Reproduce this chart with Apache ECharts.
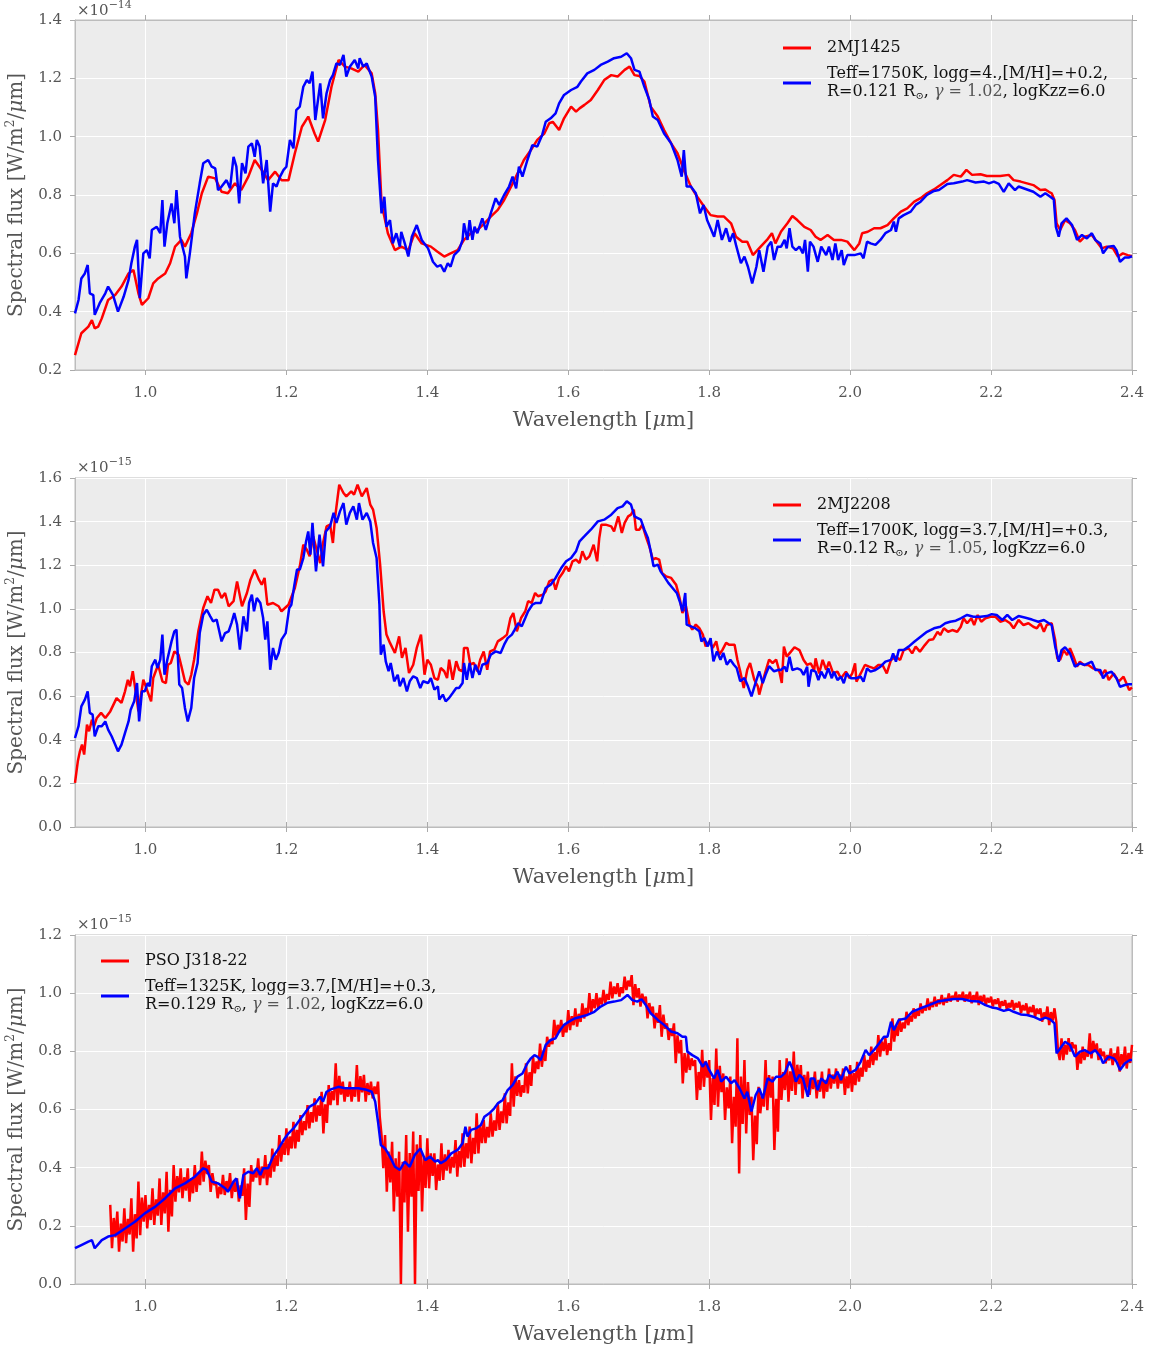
<!DOCTYPE html>
<html>
<head>
<meta charset="utf-8">
<script src="https://cdn.jsdelivr.net/npm/echarts@6/dist/echarts.min.js"></script>
<style>html,body{margin:0;padding:0;background:#fff}#c{width:1151px;height:1347px}</style>
</head>
<body>
<div id="c"></div>
<script>
// ---------------- data (wavelength in micron, flux in units of the axis multiplier) ----------------
const X_TICKS = [1.0, 1.2, 1.4, 1.6, 1.8, 2.0, 2.2, 2.4];
const Y_RANGES = [[0.2, 1.4], [0.0, 1.6], [0.0, 1.2]];
const EXPONENTS = ['−14', '−15', '−15'];
const OBJ_NAMES = ['2MJ1425', '2MJ2208', 'PSO J318-22'];
const MODEL_NAMES = [
  'Teff=1750K, logg=4.,[M/H]=+0.2,\nR=0.121 R⊙, γ = 1.02, logKzz=6.0',
  'Teff=1700K, logg=3.7,[M/H]=+0.3,\nR=0.12 R⊙, γ = 1.05, logKzz=6.0',
  'Teff=1325K, logg=3.7,[M/H]=+0.3,\nR=0.129 R⊙, γ = 1.02, logKzz=6.0'
];

const P1_OBS = [[0.900,0.251],[0.909,0.326],[0.919,0.349],[0.924,0.371],[0.928,0.343],[0.933,0.349],[0.938,0.377],[0.947,0.44],[0.957,0.457],[0.966,0.486],[0.976,0.531],[0.983,0.543],[0.990,0.463],[0.995,0.423],[1.004,0.446],[1.011,0.497],[1.018,0.514],[1.028,0.531],[1.035,0.566],[1.042,0.623],[1.051,0.646],[1.056,0.623],[1.065,0.669],[1.073,0.737],[1.080,0.806],[1.089,0.863],[1.099,0.857],[1.108,0.811],[1.117,0.806],[1.127,0.84],[1.136,0.817],[1.146,0.863],[1.155,0.92],[1.165,0.886],[1.174,0.851],[1.184,0.88],[1.193,0.851],[1.203,0.851],[1.212,0.943],[1.222,1.034],[1.231,1.069],[1.240,1.011],[1.245,0.983],[1.255,1.057],[1.264,1.171],[1.274,1.263],[1.283,1.24],[1.292,1.234],[1.302,1.223],[1.311,1.246],[1.321,1.217],[1.326,1.149],[1.330,1.023],[1.335,0.771],[1.344,0.669],[1.354,0.611],[1.363,0.623],[1.373,0.611],[1.382,0.669],[1.392,0.634],[1.405,0.623],[1.414,0.606],[1.424,0.589],[1.433,0.6],[1.443,0.611],[1.452,0.646],[1.462,0.669],[1.471,0.68],[1.481,0.703],[1.490,0.726],[1.500,0.749],[1.509,0.783],[1.519,0.829],[1.528,0.874],[1.537,0.92],[1.547,0.954],[1.556,0.989],[1.566,1.011],[1.573,1.046],[1.578,1.051],[1.587,1.023],[1.594,1.063],[1.604,1.103],[1.611,1.086],[1.616,1.097],[1.623,1.109],[1.632,1.126],[1.642,1.16],[1.651,1.194],[1.661,1.211],[1.670,1.206],[1.680,1.229],[1.687,1.24],[1.694,1.211],[1.701,1.208],[1.708,1.189],[1.717,1.103],[1.727,1.069],[1.736,1.023],[1.746,0.977],[1.755,0.943],[1.764,0.886],[1.774,0.829],[1.783,0.794],[1.793,0.76],[1.802,0.731],[1.812,0.726],[1.821,0.726],[1.831,0.703],[1.838,0.657],[1.847,0.64],[1.854,0.64],[1.862,0.594],[1.873,0.623],[1.882,0.646],[1.889,0.669],[1.894,0.634],[1.902,0.675],[1.911,0.703],[1.918,0.728],[1.925,0.714],[1.935,0.691],[1.944,0.68],[1.951,0.657],[1.958,0.646],[1.968,0.663],[1.977,0.646],[1.987,0.646],[1.996,0.64],[2.006,0.611],[2.013,0.634],[2.017,0.669],[2.025,0.674],[2.034,0.686],[2.043,0.686],[2.053,0.697],[2.062,0.72],[2.072,0.743],[2.081,0.754],[2.091,0.777],[2.100,0.789],[2.109,0.806],[2.119,0.819],[2.128,0.834],[2.138,0.851],[2.147,0.869],[2.157,0.863],[2.165,0.886],[2.173,0.869],[2.185,0.871],[2.194,0.865],[2.204,0.865],[2.213,0.865],[2.225,0.869],[2.232,0.851],[2.242,0.846],[2.251,0.84],[2.260,0.834],[2.270,0.817],[2.277,0.819],[2.282,0.811],[2.286,0.806],[2.290,0.783],[2.293,0.703],[2.298,0.68],[2.305,0.714],[2.312,0.703],[2.319,0.68],[2.326,0.64],[2.333,0.657],[2.343,0.663],[2.350,0.64],[2.357,0.617],[2.364,0.623],[2.373,0.617],[2.380,0.589],[2.387,0.6],[2.394,0.594],[2.400,0.59]];

const P1_MODEL = [[0.900,0.394],[0.905,0.44],[0.909,0.514],[0.914,0.531],[0.918,0.56],[0.921,0.463],[0.926,0.457],[0.928,0.389],[0.935,0.429],[0.943,0.463],[0.947,0.486],[0.954,0.457],[0.961,0.4],[0.969,0.451],[0.976,0.509],[0.980,0.566],[0.985,0.623],[0.988,0.646],[0.992,0.446],[0.997,0.6],[1.002,0.611],[1.006,0.583],[1.009,0.68],[1.016,0.691],[1.021,0.669],[1.024,0.783],[1.027,0.623],[1.031,0.703],[1.037,0.771],[1.041,0.703],[1.044,0.817],[1.049,0.657],[1.056,0.589],[1.058,0.514],[1.063,0.6],[1.070,0.737],[1.077,0.84],[1.082,0.909],[1.089,0.92],[1.094,0.897],[1.099,0.891],[1.103,0.817],[1.108,0.829],[1.115,0.851],[1.120,0.823],[1.125,0.931],[1.129,0.897],[1.133,0.771],[1.137,0.909],[1.142,0.874],[1.146,0.966],[1.151,0.977],[1.155,0.931],[1.158,0.989],[1.162,0.966],[1.167,0.84],[1.172,0.92],[1.177,0.743],[1.181,0.84],[1.186,0.829],[1.191,0.863],[1.196,0.886],[1.200,0.897],[1.205,0.989],[1.210,0.96],[1.214,1.091],[1.219,1.103],[1.224,1.171],[1.229,1.194],[1.233,1.183],[1.237,1.223],[1.241,1.057],[1.248,1.183],[1.252,1.063],[1.257,1.149],[1.262,1.194],[1.266,1.211],[1.271,1.251],[1.276,1.246],[1.281,1.28],[1.285,1.206],[1.290,1.24],[1.297,1.263],[1.302,1.234],[1.304,1.269],[1.309,1.24],[1.314,1.251],[1.321,1.206],[1.326,1.137],[1.330,0.92],[1.335,0.737],[1.339,0.794],[1.342,0.691],[1.347,0.714],[1.351,0.634],[1.356,0.669],[1.361,0.623],[1.363,0.674],[1.368,0.634],[1.373,0.589],[1.378,0.657],[1.385,0.697],[1.392,0.646],[1.401,0.617],[1.408,0.571],[1.410,0.577],[1.414,0.554],[1.419,0.56],[1.424,0.537],[1.429,0.566],[1.433,0.554],[1.438,0.594],[1.445,0.611],[1.450,0.646],[1.452,0.703],[1.457,0.646],[1.460,0.714],[1.464,0.646],[1.467,0.691],[1.471,0.669],[1.478,0.72],[1.483,0.68],[1.490,0.737],[1.497,0.789],[1.502,0.766],[1.509,0.8],[1.516,0.829],[1.521,0.863],[1.526,0.823],[1.530,0.897],[1.535,0.863],[1.542,0.92],[1.549,0.971],[1.556,0.966],[1.563,1.006],[1.568,1.051],[1.575,1.063],[1.582,1.08],[1.587,1.114],[1.594,1.143],[1.604,1.16],[1.613,1.171],[1.618,1.189],[1.627,1.217],[1.637,1.229],[1.646,1.246],[1.656,1.257],[1.665,1.269],[1.675,1.274],[1.683,1.286],[1.689,1.269],[1.694,1.229],[1.701,1.223],[1.708,1.171],[1.715,1.126],[1.720,1.069],[1.727,1.057],[1.736,1.011],[1.746,0.977],[1.755,0.92],[1.761,0.863],[1.764,0.954],[1.768,0.829],[1.774,0.829],[1.781,0.806],[1.787,0.737],[1.792,0.766],[1.797,0.714],[1.802,0.686],[1.807,0.657],[1.812,0.714],[1.818,0.646],[1.824,0.686],[1.829,0.64],[1.834,0.669],[1.838,0.629],[1.845,0.566],[1.850,0.589],[1.855,0.554],[1.861,0.497],[1.867,0.554],[1.871,0.611],[1.877,0.537],[1.883,0.623],[1.888,0.64],[1.892,0.577],[1.897,0.623],[1.902,0.623],[1.907,0.646],[1.910,0.617],[1.914,0.686],[1.918,0.623],[1.923,0.611],[1.928,0.623],[1.933,0.6],[1.936,0.646],[1.940,0.537],[1.943,0.64],[1.948,0.623],[1.954,0.571],[1.959,0.623],[1.966,0.594],[1.970,0.623],[1.975,0.577],[1.979,0.634],[1.983,0.577],[1.988,0.611],[1.991,0.56],[1.996,0.594],[2.006,0.594],[2.015,0.6],[2.019,0.583],[2.024,0.64],[2.029,0.634],[2.036,0.629],[2.043,0.646],[2.050,0.669],[2.058,0.68],[2.062,0.709],[2.065,0.674],[2.069,0.72],[2.076,0.731],[2.086,0.743],[2.093,0.766],[2.100,0.777],[2.109,0.8],[2.119,0.814],[2.126,0.817],[2.133,0.829],[2.138,0.838],[2.147,0.84],[2.159,0.846],[2.166,0.851],[2.178,0.843],[2.190,0.846],[2.197,0.84],[2.204,0.846],[2.211,0.838],[2.218,0.811],[2.225,0.84],[2.234,0.817],[2.239,0.829],[2.251,0.819],[2.260,0.811],[2.270,0.794],[2.277,0.806],[2.284,0.794],[2.289,0.785],[2.292,0.691],[2.296,0.657],[2.300,0.703],[2.307,0.72],[2.315,0.697],[2.322,0.646],[2.329,0.663],[2.336,0.651],[2.343,0.669],[2.348,0.646],[2.355,0.634],[2.359,0.6],[2.366,0.623],[2.374,0.625],[2.378,0.611],[2.383,0.571],[2.390,0.586],[2.396,0.586],[2.400,0.59]];

const P2_OBS = [[0.900,0.202],[0.904,0.301],[0.907,0.347],[0.910,0.378],[0.913,0.332],[0.917,0.469],[0.920,0.439],[0.924,0.492],[0.927,0.462],[0.931,0.5],[0.937,0.523],[0.943,0.5],[0.950,0.53],[0.959,0.591],[0.966,0.569],[0.971,0.622],[0.975,0.675],[0.978,0.645],[0.982,0.714],[0.986,0.622],[0.990,0.53],[0.997,0.675],[1.003,0.622],[1.008,0.576],[1.011,0.683],[1.018,0.744],[1.024,0.668],[1.029,0.66],[1.032,0.744],[1.036,0.752],[1.041,0.805],[1.047,0.79],[1.051,0.737],[1.056,0.668],[1.061,0.653],[1.065,0.698],[1.069,0.767],[1.075,0.897],[1.082,1.004],[1.088,1.058],[1.093,1.027],[1.098,1.088],[1.103,1.088],[1.108,1.05],[1.113,1.073],[1.118,1.012],[1.125,1.035],[1.130,1.126],[1.137,1.012],[1.144,1.073],[1.149,1.134],[1.155,1.18],[1.161,1.134],[1.165,1.111],[1.169,1.142],[1.173,1.019],[1.181,1.027],[1.189,1.012],[1.193,0.989],[1.203,1.019],[1.212,1.096],[1.219,1.195],[1.224,1.294],[1.229,1.271],[1.233,1.241],[1.238,1.333],[1.243,1.271],[1.248,1.21],[1.252,1.302],[1.257,1.378],[1.262,1.386],[1.266,1.302],[1.269,1.417],[1.275,1.569],[1.281,1.531],[1.285,1.516],[1.292,1.539],[1.296,1.524],[1.301,1.569],[1.307,1.516],[1.314,1.554],[1.319,1.478],[1.323,1.455],[1.328,1.371],[1.333,1.203],[1.338,0.989],[1.342,0.882],[1.347,0.844],[1.354,0.798],[1.360,0.874],[1.364,0.775],[1.369,0.821],[1.374,0.706],[1.380,0.744],[1.385,0.821],[1.391,0.882],[1.396,0.698],[1.400,0.767],[1.405,0.744],[1.410,0.683],[1.415,0.675],[1.419,0.729],[1.424,0.714],[1.428,0.683],[1.431,0.767],[1.436,0.675],[1.441,0.76],[1.445,0.721],[1.450,0.714],[1.452,0.821],[1.457,0.821],[1.461,0.744],[1.466,0.752],[1.471,0.714],[1.475,0.767],[1.480,0.805],[1.485,0.721],[1.489,0.805],[1.495,0.813],[1.500,0.851],[1.507,0.866],[1.513,0.882],[1.518,0.958],[1.522,0.981],[1.527,0.897],[1.533,0.958],[1.539,0.989],[1.543,1.035],[1.548,1.027],[1.553,1.073],[1.557,1.058],[1.564,1.065],[1.568,1.08],[1.573,1.126],[1.578,1.134],[1.582,1.088],[1.587,1.142],[1.592,1.164],[1.597,1.195],[1.601,1.172],[1.606,1.218],[1.611,1.226],[1.616,1.21],[1.620,1.264],[1.625,1.226],[1.630,1.241],[1.636,1.294],[1.641,1.218],[1.644,1.325],[1.647,1.386],[1.653,1.386],[1.661,1.378],[1.665,1.355],[1.671,1.424],[1.676,1.348],[1.680,1.394],[1.685,1.424],[1.689,1.432],[1.693,1.455],[1.696,1.363],[1.701,1.363],[1.705,1.386],[1.710,1.333],[1.715,1.287],[1.720,1.226],[1.724,1.233],[1.729,1.226],[1.733,1.164],[1.739,1.149],[1.746,1.142],[1.753,1.111],[1.758,1.05],[1.762,0.981],[1.767,1.012],[1.772,0.928],[1.776,0.905],[1.781,0.928],[1.786,0.912],[1.791,0.882],[1.795,0.828],[1.800,0.851],[1.805,0.821],[1.810,0.851],[1.814,0.79],[1.819,0.813],[1.824,0.844],[1.828,0.836],[1.836,0.836],[1.840,0.767],[1.844,0.714],[1.849,0.637],[1.854,0.721],[1.858,0.752],[1.864,0.675],[1.869,0.645],[1.871,0.607],[1.876,0.668],[1.880,0.714],[1.885,0.767],[1.890,0.752],[1.895,0.767],[1.899,0.721],[1.903,0.66],[1.906,0.827],[1.910,0.781],[1.916,0.804],[1.921,0.824],[1.928,0.811],[1.934,0.766],[1.939,0.743],[1.944,0.75],[1.949,0.72],[1.951,0.773],[1.956,0.704],[1.961,0.766],[1.966,0.72],[1.970,0.758],[1.976,0.704],[1.982,0.712],[1.987,0.682],[1.994,0.712],[1.999,0.682],[2.003,0.704],[2.007,0.75],[2.009,0.666],[2.015,0.704],[2.021,0.743],[2.027,0.735],[2.034,0.727],[2.040,0.743],[2.046,0.743],[2.052,0.704],[2.058,0.766],[2.065,0.781],[2.071,0.766],[2.076,0.811],[2.083,0.819],[2.088,0.796],[2.093,0.827],[2.099,0.804],[2.106,0.834],[2.112,0.857],[2.118,0.861],[2.124,0.895],[2.128,0.88],[2.133,0.911],[2.139,0.895],[2.145,0.903],[2.152,0.895],[2.157,0.918],[2.161,0.957],[2.166,0.934],[2.172,0.957],[2.176,0.926],[2.181,0.972],[2.186,0.941],[2.192,0.957],[2.199,0.964],[2.206,0.964],[2.213,0.941],[2.220,0.949],[2.227,0.934],[2.232,0.911],[2.239,0.949],[2.246,0.926],[2.253,0.934],[2.260,0.918],[2.265,0.911],[2.270,0.934],[2.275,0.895],[2.279,0.926],[2.286,0.934],[2.291,0.857],[2.294,0.773],[2.298,0.766],[2.303,0.811],[2.308,0.788],[2.312,0.819],[2.317,0.781],[2.322,0.735],[2.326,0.758],[2.332,0.743],[2.338,0.743],[2.345,0.727],[2.352,0.72],[2.357,0.697],[2.362,0.72],[2.367,0.674],[2.374,0.704],[2.381,0.666],[2.388,0.689],[2.392,0.659],[2.396,0.628],[2.400,0.64]];

const P2_MODEL = [[0.900,0.408],[0.905,0.462],[0.909,0.553],[0.914,0.584],[0.918,0.622],[0.921,0.523],[0.925,0.515],[0.928,0.416],[0.933,0.462],[0.938,0.462],[0.943,0.484],[0.947,0.446],[0.952,0.416],[0.957,0.378],[0.961,0.347],[0.966,0.378],[0.971,0.431],[0.976,0.484],[0.979,0.538],[0.984,0.576],[0.988,0.66],[0.991,0.484],[0.995,0.622],[0.999,0.622],[1.003,0.66],[1.006,0.645],[1.009,0.737],[1.014,0.767],[1.017,0.729],[1.021,0.767],[1.024,0.882],[1.027,0.698],[1.031,0.767],[1.037,0.851],[1.041,0.897],[1.044,0.905],[1.048,0.653],[1.052,0.637],[1.056,0.546],[1.060,0.484],[1.065,0.546],[1.069,0.683],[1.074,0.752],[1.077,0.889],[1.082,0.973],[1.087,0.996],[1.092,0.966],[1.096,0.943],[1.101,0.951],[1.108,0.851],[1.113,0.889],[1.118,0.897],[1.122,0.935],[1.126,0.981],[1.130,0.928],[1.134,0.813],[1.139,0.966],[1.144,0.897],[1.147,1.027],[1.151,1.065],[1.154,0.989],[1.158,1.05],[1.163,1.027],[1.167,0.958],[1.170,0.859],[1.173,0.943],[1.177,0.721],[1.181,0.821],[1.185,0.767],[1.189,0.798],[1.193,0.859],[1.199,0.889],[1.204,1.004],[1.207,1.019],[1.211,1.103],[1.215,1.18],[1.219,1.18],[1.224,1.233],[1.228,1.31],[1.231,1.355],[1.234,1.249],[1.237,1.394],[1.242,1.172],[1.247,1.34],[1.252,1.195],[1.256,1.355],[1.262,1.378],[1.267,1.44],[1.271,1.394],[1.276,1.447],[1.281,1.485],[1.285,1.386],[1.290,1.44],[1.295,1.47],[1.300,1.409],[1.303,1.485],[1.308,1.409],[1.314,1.44],[1.319,1.401],[1.323,1.302],[1.328,1.233],[1.332,1.019],[1.334,0.79],[1.338,0.836],[1.341,0.759],[1.345,0.714],[1.348,0.752],[1.353,0.668],[1.358,0.698],[1.361,0.645],[1.366,0.683],[1.371,0.622],[1.375,0.668],[1.380,0.691],[1.385,0.683],[1.390,0.637],[1.394,0.668],[1.401,0.66],[1.405,0.683],[1.410,0.63],[1.415,0.645],[1.417,0.584],[1.422,0.607],[1.426,0.576],[1.431,0.592],[1.436,0.614],[1.441,0.637],[1.445,0.637],[1.450,0.66],[1.452,0.752],[1.456,0.675],[1.460,0.752],[1.464,0.683],[1.468,0.744],[1.474,0.698],[1.478,0.744],[1.485,0.752],[1.490,0.79],[1.497,0.805],[1.504,0.798],[1.509,0.836],[1.514,0.866],[1.520,0.882],[1.524,0.905],[1.529,0.935],[1.534,0.92],[1.539,0.958],[1.543,0.989],[1.549,1.019],[1.554,1.027],[1.561,1.027],[1.568,1.096],[1.575,1.111],[1.582,1.142],[1.590,1.187],[1.597,1.218],[1.604,1.233],[1.611,1.264],[1.616,1.31],[1.623,1.333],[1.632,1.363],[1.642,1.401],[1.651,1.409],[1.661,1.432],[1.670,1.462],[1.677,1.47],[1.683,1.493],[1.689,1.478],[1.694,1.424],[1.698,1.417],[1.703,1.409],[1.708,1.363],[1.713,1.325],[1.717,1.264],[1.721,1.195],[1.727,1.203],[1.731,1.172],[1.736,1.149],[1.742,1.119],[1.748,1.096],[1.754,1.073],[1.759,1.027],[1.762,0.989],[1.766,1.073],[1.768,0.928],[1.774,0.92],[1.780,0.912],[1.786,0.897],[1.789,0.851],[1.793,0.866],[1.798,0.828],[1.802,0.866],[1.806,0.759],[1.811,0.805],[1.816,0.767],[1.820,0.798],[1.825,0.744],[1.830,0.767],[1.835,0.744],[1.839,0.729],[1.844,0.668],[1.850,0.683],[1.855,0.645],[1.860,0.599],[1.865,0.653],[1.871,0.714],[1.876,0.66],[1.880,0.698],[1.885,0.737],[1.892,0.714],[1.899,0.721],[1.902,0.72],[1.907,0.735],[1.910,0.712],[1.914,0.781],[1.918,0.72],[1.925,0.727],[1.930,0.72],[1.934,0.697],[1.939,0.735],[1.941,0.643],[1.945,0.72],[1.951,0.712],[1.955,0.674],[1.959,0.712],[1.964,0.682],[1.969,0.727],[1.974,0.682],[1.977,0.712],[1.982,0.674],[1.987,0.689],[1.991,0.659],[1.995,0.704],[2.001,0.682],[2.008,0.682],[2.015,0.689],[2.019,0.666],[2.024,0.727],[2.029,0.712],[2.036,0.72],[2.043,0.735],[2.050,0.758],[2.058,0.766],[2.061,0.796],[2.065,0.758],[2.069,0.811],[2.076,0.811],[2.083,0.827],[2.091,0.849],[2.100,0.872],[2.109,0.895],[2.119,0.911],[2.128,0.918],[2.135,0.934],[2.142,0.941],[2.150,0.946],[2.157,0.957],[2.166,0.972],[2.175,0.964],[2.185,0.964],[2.194,0.967],[2.201,0.976],[2.208,0.972],[2.216,0.949],[2.223,0.972],[2.230,0.949],[2.239,0.967],[2.249,0.959],[2.258,0.951],[2.267,0.941],[2.275,0.949],[2.282,0.934],[2.286,0.926],[2.291,0.827],[2.296,0.758],[2.300,0.811],[2.305,0.824],[2.312,0.796],[2.319,0.735],[2.326,0.75],[2.333,0.743],[2.343,0.758],[2.348,0.72],[2.355,0.72],[2.359,0.682],[2.364,0.704],[2.371,0.712],[2.378,0.682],[2.383,0.643],[2.390,0.651],[2.396,0.655],[2.400,0.655]];

const P3_OBS = [
[0.9500,0.272],[0.9525,0.123],[0.9550,0.227],[0.9575,0.160],[0.9600,0.249],[0.9625,0.111],[0.9650,0.208],[0.9675,0.146],
[0.9700,0.260],[0.9725,0.140],[0.9750,0.224],[0.9775,0.170],[0.9800,0.295],[0.9825,0.111],[0.9850,0.240],[0.9875,0.157],
[0.9900,0.352],[0.9925,0.168],[0.9950,0.297],[0.9975,0.214],[1.0000,0.306],[1.0025,0.191],[1.0050,0.272],[1.0075,0.220],
[1.0100,0.329],[1.0125,0.203],[1.0150,0.291],[1.0175,0.235],[1.0200,0.363],[1.0225,0.203],[1.0250,0.315],[1.0275,0.243],
[1.0300,0.386],[1.0325,0.180],[1.0350,0.324],[1.0375,0.232],[1.0400,0.409],[1.0425,0.283],[1.0450,0.371],[1.0475,0.315],
[1.0500,0.398],[1.0525,0.295],[1.0550,0.367],[1.0575,0.321],[1.0600,0.398],[1.0625,0.283],[1.0650,0.364],[1.0675,0.312],
[1.0700,0.409],[1.0725,0.317],[1.0750,0.381],[1.0775,0.340],[1.0800,0.455],[1.0825,0.352],[1.0850,0.424],[1.0875,0.378],
[1.0900,0.409],[1.0925,0.317],[1.0950,0.381],[1.0975,0.340],[1.1000,0.352],[1.1025,0.295],[1.1050,0.335],[1.1075,0.309],
[1.1100,0.375],[1.1125,0.306],[1.1150,0.354],[1.1175,0.323],[1.1200,0.381],[1.1225,0.295],[1.1250,0.355],[1.1275,0.317],
[1.1300,0.363],[1.1325,0.283],[1.1350,0.339],[1.1375,0.303],[1.1400,0.398],[1.1425,0.220],[1.1450,0.345],[1.1475,0.265],
[1.1500,0.409],[1.1525,0.352],[1.1550,0.392],[1.1575,0.366],[1.1600,0.432],[1.1625,0.340],[1.1650,0.404],[1.1675,0.363],
[1.1700,0.443],[1.1725,0.340],[1.1750,0.412],[1.1775,0.366],[1.1800,0.466],[1.1825,0.386],[1.1850,0.442],[1.1875,0.406],
[1.1900,0.512],[1.1925,0.421],[1.1950,0.485],[1.1975,0.444],[1.2000,0.535],[1.2025,0.443],[1.2050,0.507],[1.2075,0.466],
[1.2100,0.558],[1.2125,0.466],[1.2150,0.530],[1.2175,0.489],[1.2200,0.581],[1.2225,0.512],[1.2250,0.560],[1.2275,0.529],
[1.2300,0.615],[1.2325,0.535],[1.2350,0.591],[1.2375,0.555],[1.2400,0.638],[1.2425,0.558],[1.2450,0.614],[1.2475,0.578],
[1.2500,0.661],[1.2525,0.518],[1.2550,0.618],[1.2575,0.554],[1.2600,0.684],[1.2625,0.615],[1.2650,0.663],[1.2675,0.632],
[1.2700,0.759],[1.2725,0.615],[1.2750,0.716],[1.2775,0.651],[1.2800,0.696],[1.2825,0.627],[1.2850,0.675],[1.2875,0.644],
[1.2900,0.696],[1.2925,0.627],[1.2950,0.675],[1.2975,0.644],[1.3000,0.753],[1.3025,0.627],[1.3050,0.715],[1.3075,0.659],
[1.3100,0.719],[1.3125,0.627],[1.3150,0.691],[1.3175,0.650],[1.3200,0.696],[1.3225,0.638],[1.3250,0.679],[1.3275,0.653],
[1.3300,0.696],[1.3325,0.575],[1.3350,0.512],[1.3375,0.398],[1.3400,0.512],[1.3425,0.317],[1.3450,0.455],[1.3475,0.349],
[1.3500,0.489],[1.3525,0.249],[1.3550,0.432],[1.3575,0.300],[1.3600,0.455],[1.3625,0.000],[1.3650,0.420],[1.3675,0.280],
[1.3700,0.512],[1.3725,0.180],[1.3750,0.450],[1.3775,0.300],[1.3800,0.524],[1.3825,0.000],[1.3850,0.480],[1.3875,0.320],
[1.3900,0.512],[1.3925,0.249],[1.3950,0.440],[1.3975,0.330],[1.4000,0.501],[1.4025,0.329],[1.4050,0.449],[1.4075,0.372],
[1.4100,0.449],[1.4125,0.323],[1.4150,0.411],[1.4175,0.355],[1.4200,0.484],[1.4225,0.358],[1.4250,0.446],[1.4275,0.390],
[1.4300,0.461],[1.4325,0.380],[1.4350,0.437],[1.4375,0.400],[1.4400,0.495],[1.4425,0.369],[1.4450,0.457],[1.4475,0.401],
[1.4500,0.518],[1.4525,0.403],[1.4550,0.484],[1.4575,0.432],[1.4600,0.541],[1.4625,0.415],[1.4650,0.503],[1.4675,0.447],
[1.4700,0.587],[1.4725,0.449],[1.4750,0.546],[1.4775,0.484],[1.4800,0.564],[1.4825,0.484],[1.4850,0.540],[1.4875,0.504],
[1.4900,0.587],[1.4925,0.507],[1.4950,0.563],[1.4975,0.527],[1.5000,0.621],[1.5025,0.530],[1.5050,0.594],[1.5075,0.553],
[1.5100,0.656],[1.5125,0.552],[1.5150,0.625],[1.5175,0.578],[1.5200,0.759],[1.5225,0.610],[1.5250,0.714],[1.5275,0.647],
[1.5300,0.701],[1.5325,0.644],[1.5350,0.684],[1.5375,0.658],[1.5400,0.759],[1.5425,0.655],[1.5450,0.728],[1.5475,0.681],
[1.5500,0.782],[1.5525,0.724],[1.5550,0.765],[1.5575,0.739],[1.5600,0.827],[1.5625,0.747],[1.5650,0.803],[1.5675,0.767],
[1.5700,0.850],[1.5725,0.816],[1.5750,0.840],[1.5775,0.825],[1.5800,0.908],[1.5825,0.850],[1.5850,0.891],[1.5875,0.865],
[1.5900,0.908],[1.5925,0.850],[1.5950,0.891],[1.5975,0.865],[1.6000,0.942],[1.6025,0.873],[1.6050,0.921],[1.6075,0.890],
[1.6100,0.948],[1.6125,0.885],[1.6150,0.929],[1.6175,0.901],[1.6200,0.965],[1.6225,0.913],[1.6250,0.949],[1.6275,0.926],
[1.6300,1.000],[1.6325,0.931],[1.6350,0.979],[1.6375,0.948],[1.6400,1.000],[1.6425,0.948],[1.6450,0.984],[1.6475,0.961],
[1.6500,1.011],[1.6525,0.965],[1.6550,0.997],[1.6575,0.977],[1.6600,1.040],[1.6625,0.982],[1.6650,1.023],[1.6675,0.997],
[1.6700,1.034],[1.6725,0.988],[1.6750,1.020],[1.6775,1.000],[1.6800,1.057],[1.6825,1.011],[1.6850,1.043],[1.6875,1.023],
[1.6900,1.062],[1.6925,0.959],[1.6950,1.031],[1.6975,0.985],[1.7000,1.017],[1.7025,0.954],[1.7050,0.998],[1.7075,0.970],
[1.7100,0.988],[1.7125,0.913],[1.7150,0.966],[1.7175,0.932],[1.7200,0.954],[1.7225,0.879],[1.7250,0.932],[1.7275,0.898],
[1.7300,0.959],[1.7325,0.850],[1.7350,0.926],[1.7375,0.877],[1.7400,0.896],[1.7425,0.839],[1.7450,0.879],[1.7475,0.853],
[1.7500,0.896],[1.7525,0.759],[1.7550,0.855],[1.7575,0.793],[1.7600,0.839],[1.7625,0.690],[1.7650,0.794],[1.7675,0.727],
[1.7700,0.793],[1.7725,0.736],[1.7750,0.776],[1.7775,0.750],[1.7800,0.770],[1.7825,0.633],[1.7850,0.729],[1.7875,0.667],
[1.7900,0.805],[1.7925,0.678],[1.7950,0.767],[1.7975,0.710],[1.8000,0.770],[1.8025,0.564],[1.8050,0.708],[1.8075,0.616],
[1.8100,0.810],[1.8125,0.610],[1.8150,0.750],[1.8175,0.660],[1.8200,0.724],[1.8225,0.564],[1.8250,0.676],[1.8275,0.604],
[1.8300,0.713],[1.8325,0.484],[1.8350,0.644],[1.8375,0.541],[1.8400,0.845],[1.8425,0.380],[1.8450,0.713],[1.8475,0.550],
[1.8500,0.770],[1.8525,0.518],[1.8550,0.694],[1.8575,0.581],[1.8600,0.644],[1.8625,0.426],[1.8650,0.579],[1.8675,0.481],
[1.8700,0.678],[1.8725,0.587],[1.8750,0.651],[1.8775,0.610],[1.8800,0.770],[1.8825,0.598],[1.8850,0.718],[1.8875,0.641],
[1.8900,0.713],[1.8925,0.461],[1.8950,0.637],[1.8975,0.524],[1.9000,0.770],[1.9025,0.633],[1.9050,0.729],[1.9075,0.667],
[1.9100,0.776],[1.9125,0.627],[1.9150,0.731],[1.9175,0.664],[1.9200,0.799],[1.9225,0.650],[1.9250,0.754],[1.9275,0.687],
[1.9300,0.753],[1.9325,0.638],[1.9350,0.719],[1.9375,0.667],[1.9400,0.730],[1.9425,0.650],[1.9450,0.706],[1.9475,0.670],
[1.9500,0.730],[1.9525,0.638],[1.9550,0.702],[1.9575,0.661],[1.9600,0.730],[1.9625,0.638],[1.9650,0.702],[1.9675,0.661],
[1.9700,0.741],[1.9725,0.672],[1.9750,0.720],[1.9775,0.689],[1.9800,0.741],[1.9825,0.672],[1.9850,0.720],[1.9875,0.689],
[1.9900,0.741],[1.9925,0.650],[1.9950,0.714],[1.9975,0.673],[2.0000,0.753],[2.0025,0.661],[2.0050,0.725],[2.0075,0.684],
[2.0100,0.764],[2.0125,0.696],[2.0150,0.744],[2.0175,0.713],[2.0200,0.787],[2.0225,0.730],[2.0250,0.770],[2.0275,0.744],
[2.0300,0.816],[2.0325,0.753],[2.0350,0.797],[2.0375,0.769],[2.0400,0.856],[2.0425,0.782],[2.0450,0.834],[2.0475,0.801],
[2.0500,0.845],[2.0525,0.787],[2.0550,0.828],[2.0575,0.802],[2.0600,0.913],[2.0625,0.833],[2.0650,0.889],[2.0675,0.853],
[2.0700,0.913],[2.0725,0.867],[2.0750,0.899],[2.0775,0.879],[2.0800,0.936],[2.0825,0.890],[2.0850,0.922],[2.0875,0.902],
[2.0900,0.948],[2.0925,0.913],[2.0950,0.938],[2.0975,0.922],[2.1000,0.965],[2.1025,0.931],[2.1050,0.955],[2.1075,0.940],
[2.1100,0.982],[2.1125,0.942],[2.1150,0.970],[2.1175,0.952],[2.1200,0.988],[2.1225,0.954],[2.1250,0.978],[2.1275,0.963],
[2.1300,0.994],[2.1325,0.959],[2.1350,0.984],[2.1375,0.968],[2.1400,0.999],[2.1425,0.971],[2.1450,0.991],[2.1475,0.978],
[2.1500,1.005],[2.1525,0.971],[2.1550,0.995],[2.1575,0.980],[2.1600,1.005],[2.1625,0.971],[2.1650,0.995],[2.1675,0.980],
[2.1700,1.005],[2.1725,0.965],[2.1750,0.993],[2.1775,0.975],[2.1800,1.005],[2.1825,0.959],[2.1850,0.991],[2.1875,0.971],
[2.1900,0.994],[2.1925,0.959],[2.1950,0.984],[2.1975,0.968],[2.2000,0.988],[2.2025,0.954],[2.2050,0.978],[2.2075,0.963],
[2.2100,0.982],[2.2125,0.948],[2.2150,0.972],[2.2175,0.957],[2.2200,0.976],[2.2225,0.942],[2.2250,0.966],[2.2275,0.951],
[2.2300,0.976],[2.2325,0.942],[2.2350,0.966],[2.2375,0.951],[2.2400,0.971],[2.2425,0.931],[2.2450,0.959],[2.2475,0.941],
[2.2500,0.965],[2.2525,0.925],[2.2550,0.953],[2.2575,0.935],[2.2600,0.959],[2.2625,0.919],[2.2650,0.947],[2.2675,0.929],
[2.2700,0.948],[2.2725,0.902],[2.2750,0.934],[2.2775,0.914],[2.2800,0.954],[2.2825,0.890],[2.2850,0.935],[2.2875,0.906],
[2.2900,0.948],[2.2925,0.902],[2.2950,0.800],[2.2975,0.770],[2.3000,0.845],[2.3025,0.770],[2.3050,0.823],[2.3075,0.789],
[2.3100,0.845],[2.3125,0.799],[2.3150,0.831],[2.3175,0.811],[2.3200,0.822],[2.3225,0.736],[2.3250,0.796],[2.3275,0.758],
[2.3300,0.816],[2.3325,0.770],[2.3350,0.802],[2.3375,0.782],[2.3400,0.862],[2.3425,0.776],[2.3450,0.836],[2.3475,0.798],
[2.3500,0.827],[2.3525,0.770],[2.3550,0.810],[2.3575,0.784],[2.3600,0.799],[2.3625,0.759],[2.3650,0.787],[2.3675,0.769],
[2.3700,0.810],[2.3725,0.753],[2.3750,0.793],[2.3775,0.767],[2.3800,0.816],[2.3825,0.730],[2.3850,0.790],[2.3875,0.752],
[2.3900,0.816],[2.3925,0.741],[2.3950,0.794],[2.3975,0.760],[2.4000,0.822]];

const P3_MODEL = [[0.900,0.123],[0.909,0.134],[0.919,0.146],[0.924,0.151],[0.928,0.123],[0.938,0.151],[0.947,0.163],[0.957,0.168],[0.971,0.191],[0.985,0.214],[0.999,0.243],[1.014,0.266],[1.028,0.295],[1.042,0.329],[1.056,0.346],[1.070,0.369],[1.082,0.398],[1.087,0.392],[1.094,0.352],[1.103,0.346],[1.113,0.329],[1.117,0.317],[1.125,0.352],[1.129,0.363],[1.134,0.295],[1.139,0.375],[1.146,0.386],[1.153,0.381],[1.158,0.398],[1.163,0.375],[1.167,0.398],[1.174,0.398],[1.181,0.438],[1.189,0.466],[1.196,0.495],[1.203,0.518],[1.210,0.535],[1.217,0.558],[1.226,0.587],[1.233,0.61],[1.241,0.621],[1.248,0.644],[1.252,0.627],[1.257,0.661],[1.264,0.67],[1.274,0.678],[1.283,0.673],[1.293,0.673],[1.302,0.673],[1.312,0.669],[1.321,0.661],[1.326,0.627],[1.330,0.558],[1.334,0.478],[1.340,0.466],[1.347,0.438],[1.354,0.403],[1.361,0.392],[1.368,0.421],[1.375,0.403],[1.382,0.443],[1.390,0.466],[1.397,0.426],[1.404,0.438],[1.411,0.421],[1.415,0.426],[1.419,0.415],[1.426,0.426],[1.434,0.449],[1.443,0.461],[1.450,0.484],[1.454,0.541],[1.457,0.507],[1.462,0.53],[1.469,0.535],[1.476,0.547],[1.481,0.575],[1.488,0.587],[1.495,0.604],[1.500,0.621],[1.507,0.633],[1.514,0.667],[1.521,0.684],[1.528,0.713],[1.535,0.724],[1.542,0.759],[1.547,0.776],[1.552,0.787],[1.556,0.782],[1.561,0.77],[1.568,0.822],[1.575,0.839],[1.582,0.845],[1.587,0.868],[1.594,0.891],[1.601,0.902],[1.609,0.913],[1.618,0.919],[1.627,0.925],[1.637,0.936],[1.646,0.954],[1.656,0.967],[1.665,0.971],[1.675,0.976],[1.684,0.994],[1.691,0.976],[1.698,0.971],[1.704,0.979],[1.710,0.959],[1.717,0.931],[1.727,0.908],[1.736,0.891],[1.746,0.868],[1.755,0.862],[1.762,0.85],[1.767,0.85],[1.769,0.799],[1.776,0.787],[1.784,0.776],[1.791,0.747],[1.795,0.764],[1.800,0.736],[1.807,0.707],[1.812,0.736],[1.817,0.696],[1.824,0.713],[1.831,0.69],[1.836,0.701],[1.843,0.673],[1.850,0.638],[1.854,0.661],[1.860,0.593],[1.866,0.65],[1.871,0.673],[1.876,0.638],[1.883,0.707],[1.890,0.696],[1.895,0.713],[1.902,0.713],[1.907,0.724],[1.914,0.764],[1.918,0.741],[1.923,0.696],[1.928,0.719],[1.933,0.707],[1.940,0.644],[1.944,0.707],[1.949,0.707],[1.954,0.667],[1.959,0.707],[1.966,0.69],[1.970,0.719],[1.977,0.707],[1.982,0.73],[1.987,0.701],[1.994,0.747],[1.999,0.724],[2.008,0.736],[2.015,0.764],[2.022,0.805],[2.027,0.787],[2.034,0.805],[2.041,0.827],[2.048,0.85],[2.053,0.85],[2.058,0.902],[2.062,0.873],[2.069,0.908],[2.079,0.913],[2.088,0.936],[2.100,0.948],[2.112,0.959],[2.124,0.971],[2.135,0.976],[2.147,0.98],[2.159,0.98],[2.171,0.973],[2.183,0.971],[2.192,0.959],[2.201,0.951],[2.208,0.948],[2.218,0.939],[2.225,0.944],[2.232,0.936],[2.242,0.927],[2.251,0.925],[2.260,0.919],[2.270,0.908],[2.277,0.916],[2.284,0.91],[2.290,0.896],[2.293,0.793],[2.298,0.81],[2.305,0.833],[2.312,0.822],[2.319,0.782],[2.326,0.799],[2.333,0.804],[2.341,0.793],[2.348,0.804],[2.355,0.782],[2.359,0.759],[2.367,0.782],[2.374,0.776],[2.378,0.764],[2.383,0.736],[2.390,0.759],[2.397,0.77],[2.400,0.77]];

const OBS = [P1_OBS, P2_OBS, P3_OBS];
const MODELS = [P1_MODEL, P2_MODEL, P3_MODEL];

// ---------------- layout & style ----------------
const FONT = 'DejaVu Serif';
const GRAY = '#555555';
const SPINE = '#bcbcbc';
const GRID_TOPS = [20, 478, 935];
const GRID_H = [350, 349, 349];
const LEGEND_POS = [[778, 34], [768, 491], [96, 947]];
const EXP_TOPS = [0, 457, 914];

const chart = echarts.init(document.getElementById('c'), null, {renderer: 'canvas'});

const grids = [], xAxes = [], yAxes = [], series = [], legends = [], graphics = [];

function legendFormatter(name) {
  return name.replace('R⊙', 'R{sub|⊙}').replace(/γ = ([0-9.]+)/, '{g|γ}{m| = $1}');
}

for (let i = 0; i < 3; i++) {
  grids.push({left: 75, right: 19, top: GRID_TOPS[i], height: GRID_H[i], show: true,
    backgroundColor: '#ececec', borderColor: SPINE, borderWidth: 1, containLabel: false,
    outerBoundsMode: 'none'});
  const xCommon = {type: 'value', gridIndex: i, min: 0.9, max: 2.4, splitNumber: 8};
  xAxes.push(Object.assign({}, xCommon, {
    position: 'bottom',
    axisLine: {show: true, lineStyle: {color: SPINE, width: 1}},
    axisTick: {show: true, length: 5, lineStyle: {color: '#aaaaaa'}, customValues: X_TICKS},
    axisLabel: {show: true, margin: 16, color: GRAY, fontFamily: FONT, fontSize: 15,
      customValues: X_TICKS, formatter: v => v.toFixed(1)},
    splitLine: {show: true, lineStyle: {color: '#ffffff', width: 1}},
    name: 'Wavelength [{i|μ}m]', nameLocation: 'middle', nameGap: 40,
    nameTextStyle: {color: GRAY, fontFamily: FONT, fontSize: 21,
      rich: {i: {fontStyle: 'italic', fontFamily: FONT, fontSize: 21, color: GRAY}}}
  }));
  xAxes.push(Object.assign({}, xCommon, {
    position: 'top',
    axisLine: {show: true, lineStyle: {color: SPINE, width: 1}},
    axisTick: {show: true, length: 5, lineStyle: {color: '#aaaaaa'}, customValues: X_TICKS},
    axisLabel: {show: false}, splitLine: {show: false}
  }));
  const yCommon = {type: 'value', gridIndex: i, min: Y_RANGES[i][0], max: Y_RANGES[i][1], interval: 0.2};
  yAxes.push(Object.assign({}, yCommon, {
    position: 'left',
    axisLine: {show: true, lineStyle: {color: SPINE, width: 1}},
    axisTick: {show: true, length: 5, lineStyle: {color: '#aaaaaa'}},
    axisLabel: {show: true, margin: 13, color: GRAY, fontFamily: FONT, fontSize: 15,
      formatter: v => v.toFixed(1)},
    splitLine: {show: true, lineStyle: {color: '#ffffff', width: 1}},
    name: 'Spectral flux [W/m{sup|2}/{i|μ}m]', nameLocation: 'middle', nameGap: 46, nameRotate: 90,
    nameTextStyle: {color: GRAY, fontFamily: FONT, fontSize: 20,
      rich: {
        sup: {fontSize: 12, fontFamily: FONT, color: GRAY, verticalAlign: 'top', lineHeight: 24},
        i: {fontStyle: 'italic', fontFamily: FONT, fontSize: 20, color: GRAY}
      }}
  }));
  yAxes.push(Object.assign({}, yCommon, {
    position: 'right',
    axisLine: {show: true, lineStyle: {color: SPINE, width: 1}},
    axisTick: {show: true, length: 5, lineStyle: {color: '#aaaaaa'}},
    axisLabel: {show: false}, splitLine: {show: false}
  }));

  series.push({
    name: OBJ_NAMES[i], type: 'line', xAxisIndex: 2 * i, yAxisIndex: 2 * i,
    data: OBS[i], showSymbol: false, symbol: 'none', smooth: false,
    lineStyle: {color: '#ff0000', width: 2.5}, itemStyle: {color: '#ff0000'}, z: 2
  });
  series.push({
    name: MODEL_NAMES[i], type: 'line', xAxisIndex: 2 * i, yAxisIndex: 2 * i,
    data: MODELS[i], showSymbol: false, symbol: 'none', smooth: false,
    lineStyle: {color: '#0000ff', width: 2.5}, itemStyle: {color: '#0000ff'}, z: 3
  });

  legends.push({
    show: true, orient: 'vertical', left: LEGEND_POS[i][0], top: LEGEND_POS[i][1],
    data: [OBJ_NAMES[i], MODEL_NAMES[i]], icon: 'rect', itemWidth: 28, itemHeight: 3,
    itemGap: 8, selectedMode: false, formatter: legendFormatter,
    textStyle: {color: '#111111', fontFamily: FONT, fontSize: 16, lineHeight: 18,
      padding: [0, 0, 0, 11],
      rich: {
        sub: {fontSize: 10, fontFamily: FONT, color: '#111111', verticalAlign: 'bottom', lineHeight: 18},
        g: {fontSize: 16, fontFamily: FONT, fontStyle: 'italic', color: '#555555', lineHeight: 18},
        m: {fontSize: 16, fontFamily: FONT, color: '#555555', lineHeight: 18}
      }}
  });

  graphics.push({
    type: 'text', left: 77, top: EXP_TOPS[i], silent: true,
    style: {text: '×10{s|' + EXPONENTS[i] + '}', fill: GRAY, font: '15px "' + FONT + '"',
      rich: {s: {fontSize: 11, fontFamily: FONT, fill: GRAY, verticalAlign: 'top', lineHeight: 22}}}
  });
}

chart.setOption({
  animation: false,
  backgroundColor: '#ffffff',
  grid: grids, xAxis: xAxes, yAxis: yAxes, series: series, legend: legends, graphic: graphics
});
</script>
</body>
</html>
